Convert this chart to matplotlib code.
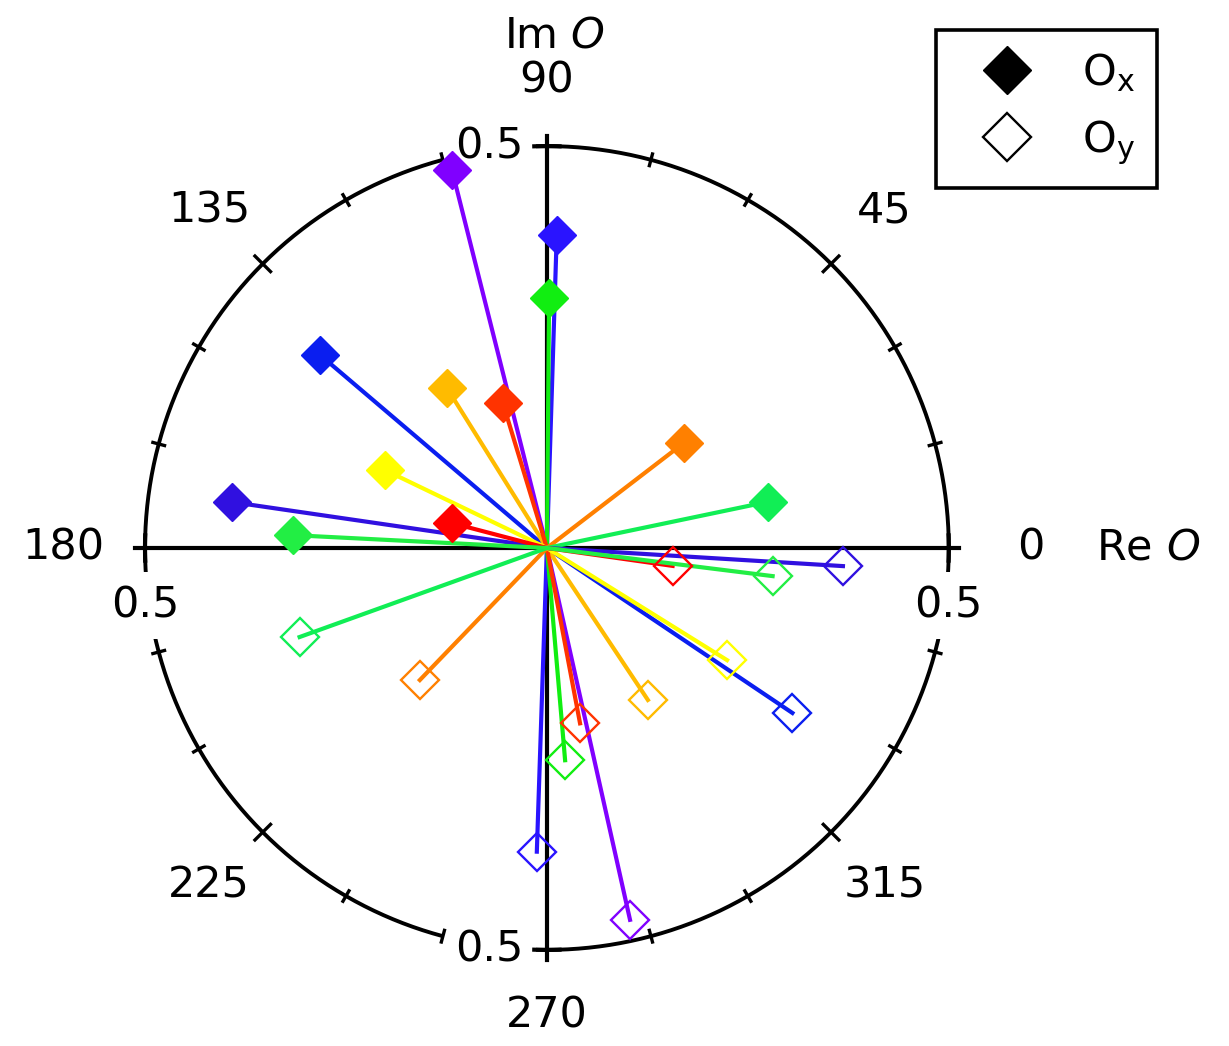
import numpy as np
import matplotlib
matplotlib.use("Agg")
from matplotlib import pyplot as plt
from matplotlib.lines import Line2D

# phase (deg) and amplitude of O_x (filled) and O_y (open) for each series
phase_x = [104.1, 88.2, 89.5, 139.6, 122.0, 106.9, 37.5, 11.8, 154.3, 171.7, 165.3, 177.1]
amp_x = [0.485, 0.390, 0.311, 0.371, 0.235, 0.188, 0.215, 0.281, 0.224, 0.396, 0.122, 0.316]
phase_y = [282.6, 268.1, 274.9, 326.1, 303.6, 280.7, 226.1, 199.8, 328.1, 356.5, 351.9, 352.9]
amp_y = [0.474, 0.378, 0.265, 0.368, 0.227, 0.222, 0.228, 0.327, 0.264, 0.369, 0.158, 0.283]
colors = ['#8000ff', '#2a14ff', '#11ee11', '#0a1ef0', '#ffbb00', '#ff3300',
          '#ff8000', '#11ee55', '#ffff00', '#3010e0', '#ff0000', '#22ee44']

angle_labels = [0, 45, 90, 135, 180, 225, 270, 315]
angle_label_r = [0.602, 0.594, 0.582, 0.594, 0.602, 0.594, 0.582, 0.594]
rmax = 0.5

FS = 31
fig = plt.figure(figsize=(12.29, 10.46), dpi=100)
ax = fig.add_axes([0.118, 0.0918, 0.654, 0.7686], projection='polar')
ax.set_ylim(0, rmax)
ax.grid(False)
ax.set_xticks([])
ax.set_yticks([])
ax.spines['polar'].set_visible(False)

# outer circle
th = np.linspace(0, 2 * np.pi, 721)
ax.plot(th, np.full_like(th, rmax), color='k', lw=2.8, zorder=2, clip_on=False)

# ticks on circle every 15 deg
for a in range(0, 360, 15):
    if a % 90 == 0:
        continue
    d = 0.0137 if a % 45 == 0 else 0.0075
    t = np.deg2rad(a)
    ax.plot([t, t], [rmax - d, rmax + d], color='k', lw=2.4, zorder=4, clip_on=False)

# Re / Im axes with end bars
for a in [0, 90, 180, 270]:
    t = np.deg2rad(a)
    ax.plot([t, t], [0, rmax + 0.0125], color='k', lw=3.0, zorder=2.5, clip_on=False)
    tb = np.deg2rad(np.linspace(a - 1.8, a + 1.8, 10))
    ax.plot(tb, np.full_like(tb, rmax), color='k', lw=3.0, zorder=4, clip_on=False)

# radial scale labels (white box hides the circle behind)
for a in [98.1, 188.1, 261.9, 351.9]:
    ax.text(np.deg2rad(a), 0.505, '0.5', fontsize=FS, ha='center', va='center',
            zorder=3, bbox=dict(facecolor='white', edgecolor='none', pad=9))

for a, r in zip(angle_labels, angle_label_r):
    ax.text(np.deg2rad(a), r, str(a), fontsize=FS, ha='center', va='center')

ax.text(np.deg2rad(89.2), 0.638, r'Im $\mathit{O}$', fontsize=FS, ha='center', va='center')
ax.text(0, 0.748, r'Re $\mathit{O}$', fontsize=FS, ha='center', va='center')

# data
for i in range(len(colors)):
    tx, ty = np.deg2rad(phase_x[i]), np.deg2rad(phase_y[i])
    ax.plot([tx, 0, ty], [amp_x[i], 0, amp_y[i]], color=colors[i], lw=3.0, zorder=5, clip_on=False)
    ax.plot(tx, amp_x[i], marker='D', ms=19, color=colors[i], ls='none', zorder=6, clip_on=False)
    ax.plot(ty, amp_y[i], marker='D', ms=19, mfc='none', mec=colors[i], mew=1.7,
            ls='none', zorder=6, clip_on=False)

handles = [Line2D([], [], marker='D', color='k', ls='none', ms=24),
           Line2D([], [], marker='D', mfc='white', mec='k', mew=1.7, ls='none', ms=24)]
leg = fig.legend(handles, [r'O$_{\mathrm{x}}$', r'O$_{\mathrm{y}}$'], loc='upper right',
                 bbox_to_anchor=(0.9414, 0.9713), fontsize=FS, frameon=True, fancybox=False,
                 edgecolor='k', framealpha=1, borderpad=0.5, handletextpad=0.6,
                 labelspacing=0.55, handlelength=2.3, borderaxespad=0)
leg.get_frame().set_linewidth(2.6)

fig.savefig('out.png', dpi=100)
